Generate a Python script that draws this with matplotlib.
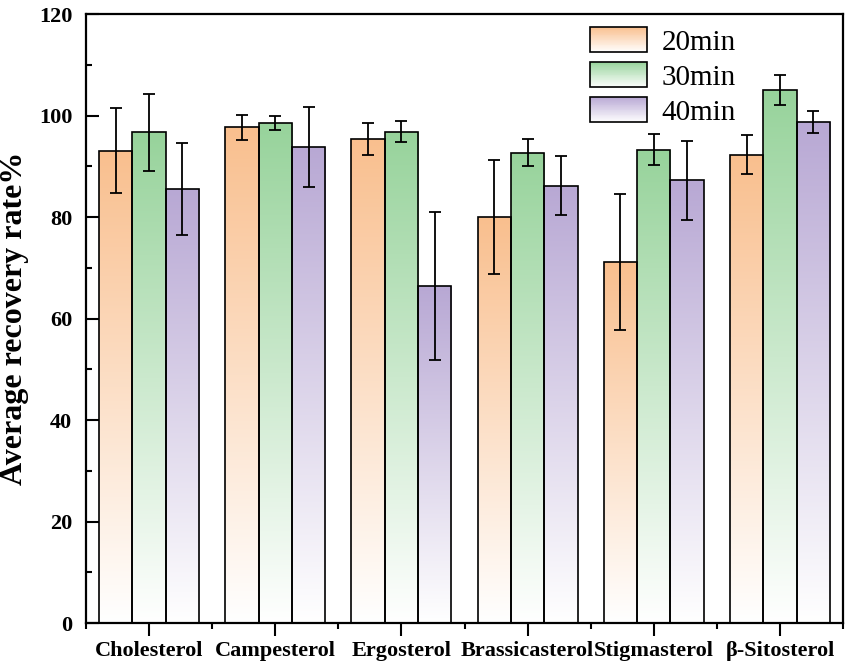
import numpy as np
import matplotlib
matplotlib.use("Agg")
import matplotlib.pyplot as plt
from matplotlib.colors import LinearSegmentedColormap, to_rgb
from matplotlib.patches import Rectangle
from matplotlib.legend_handler import HandlerBase
from matplotlib.ticker import MultipleLocator

plt.rcParams["font.family"] = ["Liberation Serif", "DejaVu Serif"]

sterols = ["Cholesterol", "Campesterol", "Ergosterol", "Brassicasterol", "Stigmasterol", "β-Sitosterol"]
series = ["20min", "30min", "40min"]
mean_20 = [93.1, 97.7, 95.4, 80.0, 71.1, 92.3]
mean_30 = [96.7, 98.5, 96.8, 92.7, 93.3, 105.0]
mean_40 = [85.5, 93.8, 66.4, 86.2, 87.2, 98.7]
err_20 = [8.3, 2.5, 3.2, 11.3, 13.4, 3.8]
err_30 = [7.6, 1.4, 2.1, 2.6, 3.1, 2.9]
err_40 = [9.0, 7.8, 14.6, 5.8, 7.8, 2.1]
colors = ["#F9BF8E", "#97D39B", "#B8A8D4"]


def gradient_cmap(c):
    return LinearSegmentedColormap.from_list("g", ["white", c])


class GradientHandler(HandlerBase):
    def create_artists(self, legend, orig_handle, xdescent, ydescent, width, height, fontsize, trans):
        c = np.array(to_rgb(orig_handle.get_facecolor()))
        n = 30
        arts = []
        for i in range(n):
            f = (i + 0.5) / n
            col = 1 - f * (1 - c)
            arts.append(Rectangle((-xdescent, -ydescent + height * i / n), width, height / n + 0.3,
                                  facecolor=col, edgecolor="none", transform=trans))
        arts.append(Rectangle((-xdescent, -ydescent), width, height, facecolor="none",
                              edgecolor="black", linewidth=1.2, transform=trans))
        return arts


fig = plt.figure(figsize=(8.51, 6.71), dpi=100)
ax = fig.add_axes([0.1011, 0.0715, 0.8895, 0.9076])

x = np.arange(len(sterols))
w = 0.264
means = [mean_20, mean_30, mean_40]
errs = [err_20, err_30, err_40]
handles = []
for k in range(3):
    pos = x + (k - 1) * w
    bars = ax.bar(pos, means[k], width=w, facecolor="none", edgecolor="black", linewidth=1.2, zorder=3)
    grad = np.linspace(0, 1, 256).reshape(-1, 1)
    for rect in bars:
        x0 = rect.get_x()
        h = rect.get_height()
        im = ax.imshow(grad, extent=[x0, x0 + w, 0, h], origin="lower", aspect="auto",
                       cmap=gradient_cmap(colors[k]), zorder=2, interpolation="bilinear")
        im.set_clip_path(rect)
    ax.errorbar(pos, means[k], yerr=errs[k], fmt="none", ecolor="black", elinewidth=1.3,
                capsize=4.5, capthick=1.3, zorder=4)
    handles.append(Rectangle((0, 0), 1, 1, facecolor=colors[k]))

ax.set_xlim(-0.5, 5.5)
ax.set_ylim(0, 120)
ax.set_xticks(x)
ax.set_xticklabels(sterols, fontsize=16, fontweight="bold")
ax.set_xticks(np.arange(-0.5, 6, 1), minor=True)
ax.yaxis.set_major_locator(MultipleLocator(20))
ax.yaxis.set_minor_locator(MultipleLocator(10))
for lab in ax.get_yticklabels():
    lab.set_fontsize(16)
    lab.set_fontweight("bold")
ax.tick_params(axis="x", which="major", direction="out", length=9, width=1.5, pad=4)
ax.tick_params(axis="x", which="minor", direction="out", length=4.5, width=1.5)
ax.tick_params(axis="y", which="major", direction="in", length=9, width=1.5, pad=10)
ax.tick_params(axis="y", which="minor", direction="in", length=4.5, width=1.5)
for s in ax.spines.values():
    s.set_linewidth(1.6)

ax.set_ylabel("Average recovery rate%", fontsize=23, fontweight="bold")
ax.yaxis.set_label_coords(-0.075, 0.5)

fig.legend(handles, series, handler_map={Rectangle: GradientHandler()},
           loc="upper left", bbox_to_anchor=(590 / 851, 1 - 27 / 671), frameon=False,
           fontsize=21, handlelength=1.95, handleheight=0.95, labelspacing=0.22,
           handletextpad=0.5, borderpad=0, borderaxespad=0)

fig.savefig("out.png", dpi=100)
